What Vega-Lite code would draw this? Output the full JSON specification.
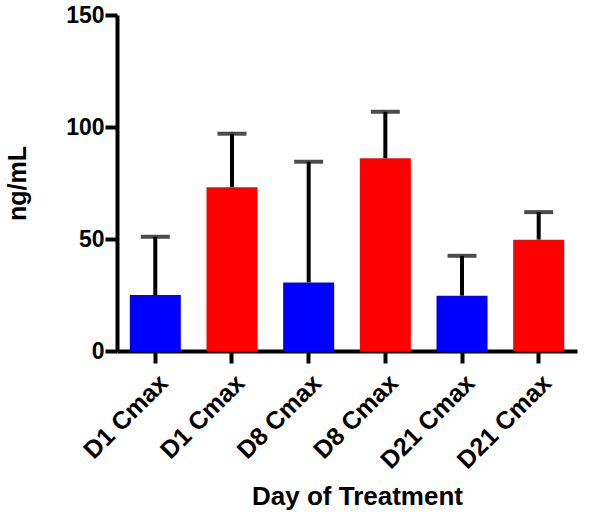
{
  "$schema": "https://vega.github.io/schema/vega-lite/v6.json",
  "autosize": "none",
  "width": 460,
  "height": 336,
  "padding": {"left": 117, "top": 15, "right": 25, "bottom": 171},
  "background": "white",
  "config": {
    "view": {"stroke": null},
    "font": "Liberation Sans"
  },
  "data": {
    "values": [
      {"label": "D1 Cmax#1", "group": "A", "value": 25, "upper": 51},
      {"label": "D1 Cmax#2", "group": "B", "value": 73.1, "upper": 97},
      {"label": "D8 Cmax#1", "group": "A", "value": 30.6, "upper": 84.5},
      {"label": "D8 Cmax#2", "group": "B", "value": 86, "upper": 106.8},
      {"label": "D21 Cmax#1", "group": "A", "value": 24.7, "upper": 42.5},
      {"label": "D21 Cmax#2", "group": "B", "value": 49.7, "upper": 62}
    ]
  },
  "encoding": {
    "x": {
      "field": "label",
      "type": "nominal",
      "sort": null,
      "scale": {"paddingInner": 0.335, "paddingOuter": 0.167},
      "axis": {
        "title": "Day of Treatment",
        "titleFont": "Liberation Sans",
        "titleFontSize": 26,
        "titleFontWeight": "bold",
        "titleColor": "black",
        "titlePadding": 10,
        "titleX": 240,
        "labelExpr": "split(datum.label, '#')[0]",
        "labelAngle": -45,
        "labelFont": "Liberation Sans",
        "labelFontSize": 25,
        "labelFontWeight": "bold",
        "labelColor": "black",
        "labelPadding": 7,
        "domainColor": "black",
        "domainWidth": 4,
        "tickColor": "black",
        "tickWidth": 4,
        "tickSize": 12
      }
    }
  },
  "layer": [
    {
      "mark": {"type": "rule", "color": "black", "strokeWidth": 4},
      "encoding": {
        "y": {"field": "value", "type": "quantitative"},
        "y2": {"field": "upper"}
      }
    },
    {
      "mark": {"type": "tick", "color": "black", "size": 29, "thickness": 4, "orient": "horizontal"},
      "encoding": {
        "y": {"field": "upper", "type": "quantitative"}
      }
    },
    {
      "mark": {"type": "bar"},
      "encoding": {
        "y": {
          "field": "value",
          "type": "quantitative",
          "scale": {"domain": [0, 150], "nice": false},
          "axis": {
            "title": "ng/mL",
            "titleFont": "Liberation Sans",
            "titleFontSize": 25,
            "titleFontWeight": "bold",
            "titleColor": "black",
            "titlePadding": 35,
            "values": [0, 50, 100, 150],
            "grid": false,
            "labelFont": "Liberation Sans",
            "labelFontSize": 23,
            "labelFontWeight": "bold",
            "labelColor": "black",
            "labelPadding": 1,
            "domainColor": "black",
            "domainWidth": 4,
            "tickColor": "black",
            "tickWidth": 4,
            "tickSize": 12
          }
        },
        "color": {
          "field": "group",
          "type": "nominal",
          "scale": {"domain": ["A", "B"], "range": ["#0000FF", "#FF0000"]},
          "legend": null
        }
      }
    }
  ]
}
